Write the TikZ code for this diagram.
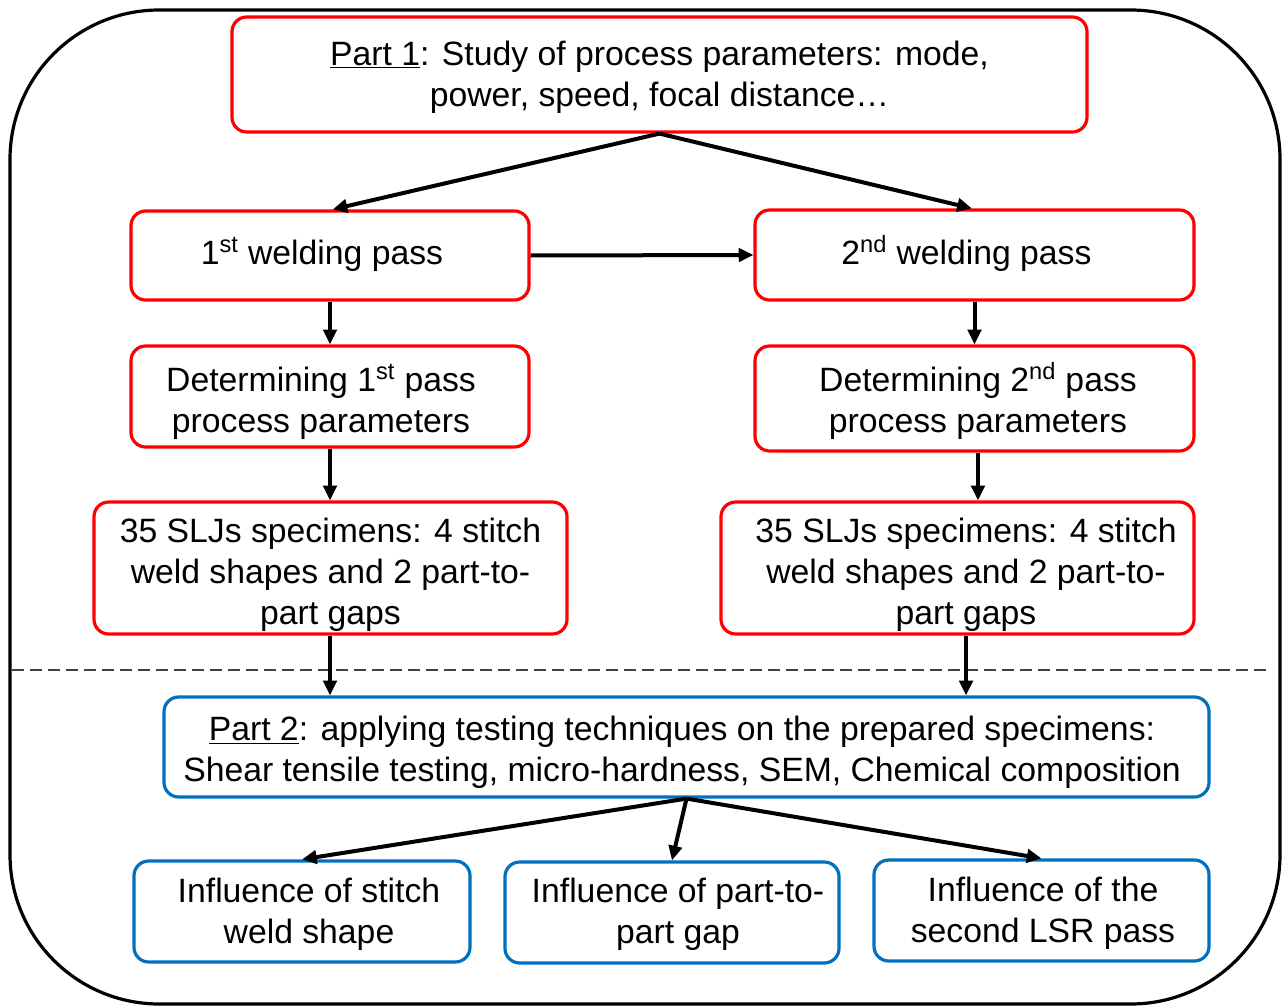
\documentclass[tikz,border=0pt]{standalone}
\usepackage{fontspec}
\setmainfont{Liberation Sans}
\usetikzlibrary{arrows.meta}
\definecolor{bboxblue}{HTML}{0070C0}
\newcommand\boxtext[3]{\hspace*{#1}\raisebox{-#2}[\height][\depth]{\begin{tabular}{@{}c@{}}#3\end{tabular}}\hspace*{-#1}}
\begin{document}
\begin{tikzpicture}[x=0.75pt,y=-0.75pt,
  font=\fontsize{25.3}{30.75}\selectfont,
  redbox/.style={draw=red, line width=2.4pt, rounded corners=11pt, inner sep=0pt},
  bluebox/.style={draw=bboxblue, line width=2.4pt, rounded corners=11pt, inner sep=0pt},
  arr/.style={draw=black, line width=3pt, -{Triangle[length=11pt,width=10pt]}},
  ]
\useasboundingbox (0,0) rectangle (1282,1006);
\draw[line width=2.4pt, rounded corners=112pt] (10,10) rectangle (1280,1004);
\coordinate (dl) at (12,670);
\coordinate (dr) at (1272,670);
\draw[dashed, dash pattern=on 9pt off 4.5pt, line width=0.9pt, black!75] (dl) -- (dr);

\node[redbox, minimum width=641.25pt, minimum height=86.25pt] (p1) at (659.5,74.5)
  {\boxtext{0pt}{2.5pt}{\underline{Part 1}: Study of process parameters: mode,\\ power, speed, focal distance…}};
\node[redbox, minimum width=298.5pt, minimum height=66.75pt] (w1) at (330,255.5)
  {\boxtext{-6pt}{0.75pt}{1\textsuperscript{st} welding pass}};
\node[redbox, minimum width=329.25pt, minimum height=67.5pt] (w2) at (974.5,255)
  {\boxtext{-6pt}{0.75pt}{2\textsuperscript{nd} welding pass}};
\node[redbox, minimum width=298.5pt, minimum height=75.75pt] (d1) at (330,396.5)
  {\boxtext{-6.75pt}{5.25pt}{Determining 1\textsuperscript{st} pass\\ process parameters}};
\node[redbox, minimum width=329.25pt, minimum height=78.75pt] (d2) at (974.5,398.5)
  {\boxtext{2.6pt}{3.75pt}{Determining 2\textsuperscript{nd} pass\\ process parameters}};
\node[redbox, minimum width=354.75pt, minimum height=99pt] (s1) at (330.5,568)
  {\boxtext{0pt}{5.25pt}{35 SLJs specimens: 4 stitch\\ weld shapes and 2 part-to-\\ part gaps}};
\node[redbox, minimum width=354.75pt, minimum height=99pt] (s2) at (957.5,568)
  {\boxtext{6.4pt}{5.25pt}{35 SLJs specimens: 4 stitch\\ weld shapes and 2 part-to-\\ part gaps}};
\node[bluebox, minimum width=783.75pt, minimum height=75pt] (p2) at (686.5,747)
  {\boxtext{-3.4pt}{4.5pt}{\underline{Part 2}: applying testing techniques on the prepared specimens:\\ Shear tensile testing, micro-hardness, SEM, Chemical composition}};
\node[bluebox, minimum width=252pt, minimum height=75.75pt] (i1) at (302,911.5)
  {\boxtext{5.25pt}{2.25pt}{Influence of stitch\\ weld shape}};
\node[bluebox, minimum width=250.5pt, minimum height=75.75pt] (i2) at (672,912.5)
  {\boxtext{4.5pt}{1.5pt}{Influence of part-to-\\ part gap}};
\node[bluebox, minimum width=251.25pt, minimum height=75.75pt] (i3) at (1041.5,910.5)
  {\boxtext{1.1pt}{2.25pt}{Influence of the\\ second LSR pass}};

\draw[arr] (p1.south) -- ([xshift=2pt]w1.north);
\draw[arr] (p1.south) -- ([xshift=-2pt]w2.north);
\draw[arr] (w1.east) -- (w2.west);
\draw[arr] (w1.south) -- (d1.north);
\draw[arr] (w2.south) -- (d2.north);
\draw[arr] (d1.south) -- (s1.north -| d1.south);
\draw[arr] ([xshift=2.6pt]d2.south) -- ([xshift=2.6pt]s2.north -| d2.south);
\draw[arr] (s1.south -| d1.south) -- (p2.north -| d1.south);
\draw[arr] ([xshift=6.4pt]s2.south) -- ([xshift=6.4pt]p2.north -| s2.south);
\draw[arr] (p2.south) -- (i1.north);
\draw[arr] (p2.south) -- (i2.north);
\draw[arr] (p2.south) -- (i3.north);
\end{tikzpicture}
\end{document}
